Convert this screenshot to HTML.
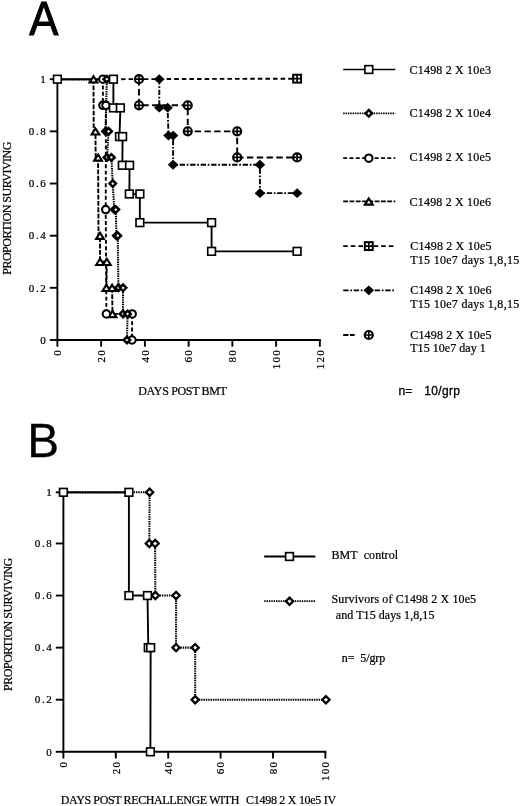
<!DOCTYPE html>
<html lang="en"><head><meta charset="utf-8"><title>Figure</title>
<style>html,body{margin:0;padding:0;background:#fff}svg{display:block;filter:grayscale(1)}text{fill:#000}</style>
</head><body>
<svg width="520" height="806" viewBox="0 0 520 806">
<rect width="520" height="806" fill="#fff"/>
<text transform="translate(29.30 34.50) scale(0.915 1)" font-family='"Liberation Sans", sans-serif' font-size="47.7" text-anchor="start" stroke="#000" stroke-width="1.0" xml:space="preserve">A</text>
<text transform="translate(27.20 457.40) scale(0.975 1)" font-family='"Liberation Sans", sans-serif' font-size="49.0" text-anchor="start" stroke="#000" stroke-width="0.25" xml:space="preserve">B</text>
<path d="M57.4 79.20V340.0H320.79" fill="none" stroke="#000" stroke-width="1.9" stroke-linejoin="miter"/>
<path d="M49.80 340.00H57.4" stroke="#000" stroke-width="1.9"/>
<text x="47.40" y="343.75" font-family='"Liberation Serif", serif' font-size="11" text-anchor="end" stroke="#000" stroke-width="0.22" letter-spacing="1.6" xml:space="preserve">0</text>
<path d="M49.80 287.84H57.4" stroke="#000" stroke-width="1.9"/>
<text x="47.40" y="291.59" font-family='"Liberation Serif", serif' font-size="11" text-anchor="end" stroke="#000" stroke-width="0.22" letter-spacing="1.6" xml:space="preserve">0.2</text>
<path d="M49.80 235.68H57.4" stroke="#000" stroke-width="1.9"/>
<text x="47.40" y="239.43" font-family='"Liberation Serif", serif' font-size="11" text-anchor="end" stroke="#000" stroke-width="0.22" letter-spacing="1.6" xml:space="preserve">0.4</text>
<path d="M49.80 183.52H57.4" stroke="#000" stroke-width="1.9"/>
<text x="47.40" y="187.27" font-family='"Liberation Serif", serif' font-size="11" text-anchor="end" stroke="#000" stroke-width="0.22" letter-spacing="1.6" xml:space="preserve">0.6</text>
<path d="M49.80 131.36H57.4" stroke="#000" stroke-width="1.9"/>
<text x="47.40" y="135.11" font-family='"Liberation Serif", serif' font-size="11" text-anchor="end" stroke="#000" stroke-width="0.22" letter-spacing="1.6" xml:space="preserve">0.8</text>
<path d="M49.80 79.20H57.4" stroke="#000" stroke-width="1.9"/>
<text x="47.40" y="82.95" font-family='"Liberation Serif", serif' font-size="11" text-anchor="end" stroke="#000" stroke-width="0.22" letter-spacing="1.6" xml:space="preserve">1</text>
<path d="M57.40 340.0V346.70" stroke="#000" stroke-width="1.9"/>
<text transform="translate(61.20 349.10) rotate(-90)" font-family='"Liberation Serif", serif' font-size="11" text-anchor="end" stroke="#000" stroke-width="0.22" letter-spacing="1.2" xml:space="preserve">0</text>
<path d="M101.14 340.0V346.70" stroke="#000" stroke-width="1.9"/>
<text transform="translate(104.94 349.10) rotate(-90)" font-family='"Liberation Serif", serif' font-size="11" text-anchor="end" stroke="#000" stroke-width="0.22" letter-spacing="1.2" xml:space="preserve">20</text>
<path d="M144.88 340.0V346.70" stroke="#000" stroke-width="1.9"/>
<text transform="translate(148.68 349.10) rotate(-90)" font-family='"Liberation Serif", serif' font-size="11" text-anchor="end" stroke="#000" stroke-width="0.22" letter-spacing="1.2" xml:space="preserve">40</text>
<path d="M188.62 340.0V346.70" stroke="#000" stroke-width="1.9"/>
<text transform="translate(192.42 349.10) rotate(-90)" font-family='"Liberation Serif", serif' font-size="11" text-anchor="end" stroke="#000" stroke-width="0.22" letter-spacing="1.2" xml:space="preserve">60</text>
<path d="M232.36 340.0V346.70" stroke="#000" stroke-width="1.9"/>
<text transform="translate(236.16 349.10) rotate(-90)" font-family='"Liberation Serif", serif' font-size="11" text-anchor="end" stroke="#000" stroke-width="0.22" letter-spacing="1.2" xml:space="preserve">80</text>
<path d="M276.10 340.0V346.70" stroke="#000" stroke-width="1.9"/>
<text transform="translate(279.90 349.10) rotate(-90)" font-family='"Liberation Serif", serif' font-size="11" text-anchor="end" stroke="#000" stroke-width="0.22" letter-spacing="1.2" xml:space="preserve">100</text>
<path d="M319.84 340.0V346.70" stroke="#000" stroke-width="1.9"/>
<text transform="translate(323.64 349.10) rotate(-90)" font-family='"Liberation Serif", serif' font-size="11" text-anchor="end" stroke="#000" stroke-width="0.22" letter-spacing="1.2" xml:space="preserve">120</text>
<text transform="translate(11.30 208.20) rotate(-90)" font-family='"Liberation Serif", serif' font-size="12" text-anchor="middle" stroke="#000" stroke-width="0.22" textLength="133.2" lengthAdjust="spacing" xml:space="preserve">PROPORTION SURVIVING</text>
<text x="138.30" y="395.00" font-family='"Liberation Serif", serif' font-size="12" text-anchor="start" stroke="#000" stroke-width="0.22" textLength="88.6" lengthAdjust="spacing" xml:space="preserve">DAYS POST BMT</text>
<polyline points="113.39,79.20 297.10,78.68" fill="none" stroke="#000" stroke-width="1.9" stroke-dasharray="4.6 3.0"/>
<polyline points="138.98,79.20 138.98,105.28 187.75,105.28 187.75,131.36 237.17,131.36 237.17,157.44 297.10,157.44" fill="none" stroke="#000" stroke-width="1.9" stroke-dasharray="6.4 3.4"/>
<polyline points="159.31,79.20 159.31,107.63 167.62,107.63 168.50,135.53 173.09,135.53 173.09,164.74 259.92,164.74 259.92,193.17 297.10,193.17" fill="none" stroke="#000" stroke-width="1.9" stroke-dasharray="5.4 1.7 1.7 1.7"/>
<polyline points="93.49,79.20 93.70,131.36 95.45,131.36 95.67,157.44 98.08,157.44 98.52,235.68 100.05,235.68 100.05,261.76 106.83,261.76 106.39,287.84 112.07,287.84 112.51,313.92" fill="none" stroke="#000" stroke-width="1.9" stroke-dasharray="4.8 1.5"/>
<polyline points="102.89,79.20 102.89,105.28 105.95,105.28 105.73,209.60 106.39,313.92 132.20,313.92 131.98,340.00" fill="none" stroke="#000" stroke-width="1.9" stroke-dasharray="3.9 2.4"/>
<polyline points="106.83,79.20 105.51,131.36 108.58,131.36 107.04,157.44 111.42,157.44 112.73,183.52 114.26,209.60 115.79,209.60 116.45,235.68 117.76,235.68 118.42,287.84 123.01,287.84 123.01,313.92 127.60,313.92 126.95,340.00" fill="none" stroke="#000" stroke-width="2.05" stroke-dasharray="1.45 0.9"/>
<polyline points="57.40,79.50 106.83,79.50" fill="none" stroke="#000" stroke-width="1.9" stroke-dasharray="1.45 0.9"/>
<polyline points="57.40,79.20 113.39,79.20 113.39,107.89 120.39,107.89 119.51,136.58 122.57,136.58 122.35,165.26 129.57,165.26 129.35,193.95 139.85,193.95 139.85,222.64 211.58,222.64 211.58,251.33 297.10,251.33" fill="none" stroke="#000" stroke-width="1.9" />
<rect x="293.15" y="74.73" width="7.90" height="7.90" fill="#fff" stroke="#000" stroke-width="2.0"/><path d="M293.15 78.68H301.05M297.1 74.73V82.63" stroke="#000" stroke-width="1.7" fill="none"/>
<circle cx="138.98" cy="79.2" r="4.05" fill="#fff" stroke="#000" stroke-width="2.1"/><path d="M134.93 79.2H143.03M138.98 75.15V83.25" stroke="#000" stroke-width="1.7" fill="none"/>
<circle cx="138.98" cy="105.28" r="4.05" fill="#fff" stroke="#000" stroke-width="2.1"/><path d="M134.93 105.28H143.03M138.98 101.23V109.33" stroke="#000" stroke-width="1.7" fill="none"/>
<circle cx="187.75" cy="105.28" r="4.05" fill="#fff" stroke="#000" stroke-width="2.1"/><path d="M183.70 105.28H191.80M187.75 101.23V109.33" stroke="#000" stroke-width="1.7" fill="none"/>
<circle cx="187.75" cy="131.36" r="4.05" fill="#fff" stroke="#000" stroke-width="2.1"/><path d="M183.70 131.36H191.80M187.75 127.31V135.41" stroke="#000" stroke-width="1.7" fill="none"/>
<circle cx="237.17" cy="131.36" r="4.05" fill="#fff" stroke="#000" stroke-width="2.1"/><path d="M233.12 131.36H241.22M237.17 127.31V135.41" stroke="#000" stroke-width="1.7" fill="none"/>
<circle cx="237.17" cy="157.44" r="4.05" fill="#fff" stroke="#000" stroke-width="2.1"/><path d="M233.12 157.44H241.22M237.17 153.39V161.49" stroke="#000" stroke-width="1.7" fill="none"/>
<circle cx="297.1" cy="157.44" r="4.05" fill="#fff" stroke="#000" stroke-width="2.1"/><path d="M293.05 157.44H301.15M297.1 153.39V161.49" stroke="#000" stroke-width="1.7" fill="none"/>
<path d="M154.01 79.2L159.31 74.30L164.61 79.2L159.31 84.10Z" fill="#000" stroke="none"/>
<path d="M154.01 107.63L159.31 102.73L164.61 107.63L159.31 112.53Z" fill="#000" stroke="none"/>
<path d="M162.32 107.63L167.62 102.73L172.92 107.63L167.62 112.53Z" fill="#000" stroke="none"/>
<path d="M163.20 135.53L168.5 130.63L173.80 135.53L168.5 140.43Z" fill="#000" stroke="none"/>
<path d="M167.79 135.53L173.09 130.63L178.39 135.53L173.09 140.43Z" fill="#000" stroke="none"/>
<path d="M167.79 164.74L173.09 159.84L178.39 164.74L173.09 169.64Z" fill="#000" stroke="none"/>
<path d="M254.62 164.74L259.92 159.84L265.22 164.74L259.92 169.64Z" fill="#000" stroke="none"/>
<path d="M254.62 193.17L259.92 188.27L265.22 193.17L259.92 198.07Z" fill="#000" stroke="none"/>
<path d="M291.80 193.17L297.1 188.27L302.40 193.17L297.1 198.07Z" fill="#000" stroke="none"/>
<path d="M89.59 82.40L93.49 76.20L97.39 82.40Z" fill="#fff" stroke="#000" stroke-width="2.1" stroke-linejoin="miter"/>
<path d="M91.55 134.56L95.45 128.36L99.35 134.56Z" fill="#fff" stroke="#000" stroke-width="2.1" stroke-linejoin="miter"/>
<path d="M94.18 160.64L98.08 154.44L101.98 160.64Z" fill="#fff" stroke="#000" stroke-width="2.1" stroke-linejoin="miter"/>
<path d="M96.15 238.88L100.05 232.68L103.95 238.88Z" fill="#fff" stroke="#000" stroke-width="2.1" stroke-linejoin="miter"/>
<path d="M96.15 264.96L100.05 258.76L103.95 264.96Z" fill="#fff" stroke="#000" stroke-width="2.1" stroke-linejoin="miter"/>
<path d="M102.93 264.96L106.83 258.76L110.73 264.96Z" fill="#fff" stroke="#000" stroke-width="2.1" stroke-linejoin="miter"/>
<path d="M102.49 291.04L106.39 284.84L110.29 291.04Z" fill="#fff" stroke="#000" stroke-width="2.1" stroke-linejoin="miter"/>
<path d="M108.17 291.04L112.07 284.84L115.97 291.04Z" fill="#fff" stroke="#000" stroke-width="2.1" stroke-linejoin="miter"/>
<path d="M108.61 317.12L112.51 310.92L116.41 317.12Z" fill="#fff" stroke="#000" stroke-width="2.1" stroke-linejoin="miter"/>
<circle cx="102.89" cy="79.2" r="3.70" fill="#fff" stroke="#000" stroke-width="2.1"/>
<circle cx="102.89" cy="105.28" r="3.70" fill="#fff" stroke="#000" stroke-width="2.1"/>
<circle cx="105.95" cy="105.28" r="3.70" fill="#fff" stroke="#000" stroke-width="2.1"/>
<circle cx="105.73" cy="209.6" r="3.70" fill="#fff" stroke="#000" stroke-width="2.1"/>
<circle cx="106.39" cy="313.92" r="3.70" fill="#fff" stroke="#000" stroke-width="2.1"/>
<circle cx="132.2" cy="313.92" r="3.70" fill="#fff" stroke="#000" stroke-width="2.1"/>
<circle cx="131.98" cy="340.0" r="3.70" fill="#fff" stroke="#000" stroke-width="2.1"/>
<path d="M103.58 79.2L106.83 75.95L110.08 79.2L106.83 82.45Z" fill="#fff" stroke="#000" stroke-width="2.5"/>
<path d="M102.26 131.36L105.51 128.11L108.76 131.36L105.51 134.61Z" fill="#fff" stroke="#000" stroke-width="2.5"/>
<path d="M105.33 131.36L108.58 128.11L111.83 131.36L108.58 134.61Z" fill="#fff" stroke="#000" stroke-width="2.5"/>
<path d="M103.79 157.44L107.04 154.19L110.29 157.44L107.04 160.69Z" fill="#fff" stroke="#000" stroke-width="2.5"/>
<path d="M108.17 157.44L111.42 154.19L114.67 157.44L111.42 160.69Z" fill="#fff" stroke="#000" stroke-width="2.5"/>
<path d="M109.48 183.52L112.73 180.27L115.98 183.52L112.73 186.77Z" fill="#fff" stroke="#000" stroke-width="2.5"/>
<path d="M111.01 209.6L114.26 206.35L117.51 209.6L114.26 212.85Z" fill="#fff" stroke="#000" stroke-width="2.5"/>
<path d="M112.54 209.6L115.79 206.35L119.04 209.6L115.79 212.85Z" fill="#fff" stroke="#000" stroke-width="2.5"/>
<path d="M113.20 235.68L116.45 232.43L119.70 235.68L116.45 238.93Z" fill="#fff" stroke="#000" stroke-width="2.5"/>
<path d="M114.51 235.68L117.76 232.43L121.01 235.68L117.76 238.93Z" fill="#fff" stroke="#000" stroke-width="2.5"/>
<path d="M115.17 287.84L118.42 284.59L121.67 287.84L118.42 291.09Z" fill="#fff" stroke="#000" stroke-width="2.5"/>
<path d="M119.76 287.84L123.01 284.59L126.26 287.84L123.01 291.09Z" fill="#fff" stroke="#000" stroke-width="2.5"/>
<path d="M119.76 313.92L123.01 310.67L126.26 313.92L123.01 317.17Z" fill="#fff" stroke="#000" stroke-width="2.5"/>
<path d="M124.35 313.92L127.6 310.67L130.85 313.92L127.6 317.17Z" fill="#fff" stroke="#000" stroke-width="2.5"/>
<path d="M123.70 340.0L126.95 336.75L130.20 340.0L126.95 343.25Z" fill="#fff" stroke="#000" stroke-width="2.5"/>
<rect x="53.55" y="75.35" width="7.70" height="7.70" fill="#fff" stroke="#000" stroke-width="1.65"/>
<rect x="109.54" y="75.35" width="7.70" height="7.70" fill="#fff" stroke="#000" stroke-width="1.65"/>
<rect x="109.54" y="104.04" width="7.70" height="7.70" fill="#fff" stroke="#000" stroke-width="1.65"/>
<rect x="116.54" y="104.04" width="7.70" height="7.70" fill="#fff" stroke="#000" stroke-width="1.65"/>
<rect x="115.66" y="132.73" width="7.70" height="7.70" fill="#fff" stroke="#000" stroke-width="1.65"/>
<rect x="118.72" y="132.73" width="7.70" height="7.70" fill="#fff" stroke="#000" stroke-width="1.65"/>
<rect x="118.50" y="161.41" width="7.70" height="7.70" fill="#fff" stroke="#000" stroke-width="1.65"/>
<rect x="125.72" y="161.41" width="7.70" height="7.70" fill="#fff" stroke="#000" stroke-width="1.65"/>
<rect x="125.50" y="190.10" width="7.70" height="7.70" fill="#fff" stroke="#000" stroke-width="1.65"/>
<rect x="136.00" y="190.10" width="7.70" height="7.70" fill="#fff" stroke="#000" stroke-width="1.65"/>
<rect x="136.00" y="218.79" width="7.70" height="7.70" fill="#fff" stroke="#000" stroke-width="1.65"/>
<rect x="207.73" y="218.79" width="7.70" height="7.70" fill="#fff" stroke="#000" stroke-width="1.65"/>
<rect x="207.73" y="247.48" width="7.70" height="7.70" fill="#fff" stroke="#000" stroke-width="1.65"/>
<rect x="293.25" y="247.48" width="7.70" height="7.70" fill="#fff" stroke="#000" stroke-width="1.65"/>
<polyline points="343.20,69.50 395.30,69.50" fill="none" stroke="#000" stroke-width="1.6" />
<rect x="364.95" y="65.65" width="7.70" height="7.70" fill="#fff" stroke="#000" stroke-width="1.65"/>
<text x="409.60" y="73.50" font-family='"Liberation Serif", serif' font-size="12" text-anchor="start" stroke="#000" stroke-width="0.22" textLength="81.3" lengthAdjust="spacing" xml:space="preserve">C1498 2 X 10e3</text>
<polyline points="343.20,113.30 395.30,113.30" fill="none" stroke="#000" stroke-width="1.8" stroke-dasharray="1.45 0.9"/>
<path d="M365.55 113.3L368.8 110.05L372.05 113.3L368.8 116.55Z" fill="#fff" stroke="#000" stroke-width="2.5"/>
<text x="409.60" y="117.40" font-family='"Liberation Serif", serif' font-size="12" text-anchor="start" stroke="#000" stroke-width="0.22" textLength="81.3" lengthAdjust="spacing" xml:space="preserve">C1498 2 X 10e4</text>
<polyline points="343.20,158.20 395.30,158.20" fill="none" stroke="#000" stroke-width="1.8" stroke-dasharray="3.9 2.4"/>
<circle cx="368.8" cy="158.2" r="3.70" fill="#fff" stroke="#000" stroke-width="2.1"/>
<text x="409.60" y="161.30" font-family='"Liberation Serif", serif' font-size="12" text-anchor="start" stroke="#000" stroke-width="0.22" textLength="81.3" lengthAdjust="spacing" xml:space="preserve">C1498 2 X 10e5</text>
<polyline points="343.20,201.40 395.30,201.40" fill="none" stroke="#000" stroke-width="1.8" stroke-dasharray="4.8 1.5"/>
<path d="M364.90 204.60L368.8 198.40L372.70 204.60Z" fill="#fff" stroke="#000" stroke-width="2.1" stroke-linejoin="miter"/>
<text x="409.60" y="205.50" font-family='"Liberation Serif", serif' font-size="12" text-anchor="start" stroke="#000" stroke-width="0.22" textLength="81.3" lengthAdjust="spacing" xml:space="preserve">C1498 2 X 10e6</text>
<polyline points="343.20,246.10 395.30,246.10" fill="none" stroke="#000" stroke-width="1.8" stroke-dasharray="4.6 3.0"/>
<rect x="364.85" y="242.15" width="7.90" height="7.90" fill="#fff" stroke="#000" stroke-width="2.0"/><path d="M364.85 246.1H372.75M368.8 242.15V250.05" stroke="#000" stroke-width="1.7" fill="none"/>
<text x="410.20" y="250.20" font-family='"Liberation Serif", serif' font-size="12" text-anchor="start" stroke="#000" stroke-width="0.22" textLength="81.3" lengthAdjust="spacing" xml:space="preserve">C1498 2 X 10e5</text>
<text x="410.20" y="264.40" font-family='"Liberation Serif", serif' font-size="12" text-anchor="start" stroke="#000" stroke-width="0.22" textLength="109.0" lengthAdjust="spacing" xml:space="preserve">T15 10e7 days 1,8,15</text>
<polyline points="343.20,290.30 395.30,290.30" fill="none" stroke="#000" stroke-width="1.8" stroke-dasharray="5.4 1.7 1.7 1.7"/>
<path d="M363.50 290.3L368.8 285.40L374.10 290.3L368.8 295.20Z" fill="#000" stroke="none"/>
<text x="410.20" y="293.60" font-family='"Liberation Serif", serif' font-size="12" text-anchor="start" stroke="#000" stroke-width="0.22" textLength="81.3" lengthAdjust="spacing" xml:space="preserve">C1498 2 X 10e6</text>
<text x="410.20" y="307.80" font-family='"Liberation Serif", serif' font-size="12" text-anchor="start" stroke="#000" stroke-width="0.22" textLength="109.0" lengthAdjust="spacing" xml:space="preserve">T15 10e7 days 1,8,15</text>
<path d="M343.2 335.0h5.3m1.5 0h4.6" fill="none" stroke="#000" stroke-width="1.8"/>
<circle cx="368.8" cy="335.0" r="4.05" fill="#fff" stroke="#000" stroke-width="2.1"/><path d="M364.75 335.0H372.85M368.8 330.95V339.05" stroke="#000" stroke-width="1.7" fill="none"/>
<text x="410.20" y="338.50" font-family='"Liberation Serif", serif' font-size="12" text-anchor="start" stroke="#000" stroke-width="0.22" textLength="81.3" lengthAdjust="spacing" xml:space="preserve">C1498 2 X 10e5</text>
<text x="410.20" y="352.40" font-family='"Liberation Serif", serif' font-size="12" text-anchor="start" stroke="#000" stroke-width="0.22" textLength="75.6" lengthAdjust="spacing" xml:space="preserve">T15 10e7 day 1</text>
<text x="398.60" y="394.70" font-family='"Liberation Sans", sans-serif' font-size="12" text-anchor="start" stroke="#000" stroke-width="0.3" xml:space="preserve">n=</text>
<text x="424.30" y="394.70" font-family='"Liberation Sans", sans-serif' font-size="12" text-anchor="start" stroke="#000" stroke-width="0.3" textLength="35.6" lengthAdjust="spacing" xml:space="preserve">10/grp</text>
<path d="M63.4 492.31V751.8H326.35" fill="none" stroke="#000" stroke-width="1.9" stroke-linejoin="miter"/>
<path d="M55.80 751.80H63.4" stroke="#000" stroke-width="1.9"/>
<text x="53.40" y="755.55" font-family='"Liberation Serif", serif' font-size="11" text-anchor="end" stroke="#000" stroke-width="0.22" letter-spacing="1.6" xml:space="preserve">0</text>
<path d="M55.80 699.72H63.4" stroke="#000" stroke-width="1.9"/>
<text x="53.40" y="703.47" font-family='"Liberation Serif", serif' font-size="11" text-anchor="end" stroke="#000" stroke-width="0.22" letter-spacing="1.6" xml:space="preserve">0.2</text>
<path d="M55.80 647.64H63.4" stroke="#000" stroke-width="1.9"/>
<text x="53.40" y="651.39" font-family='"Liberation Serif", serif' font-size="11" text-anchor="end" stroke="#000" stroke-width="0.22" letter-spacing="1.6" xml:space="preserve">0.4</text>
<path d="M55.80 595.56H63.4" stroke="#000" stroke-width="1.9"/>
<text x="53.40" y="599.31" font-family='"Liberation Serif", serif' font-size="11" text-anchor="end" stroke="#000" stroke-width="0.22" letter-spacing="1.6" xml:space="preserve">0.6</text>
<path d="M55.80 543.48H63.4" stroke="#000" stroke-width="1.9"/>
<text x="53.40" y="547.23" font-family='"Liberation Serif", serif' font-size="11" text-anchor="end" stroke="#000" stroke-width="0.22" letter-spacing="1.6" xml:space="preserve">0.8</text>
<path d="M55.80 492.31H63.4" stroke="#000" stroke-width="1.9"/>
<text x="53.40" y="496.06" font-family='"Liberation Serif", serif' font-size="11" text-anchor="end" stroke="#000" stroke-width="0.22" letter-spacing="1.6" xml:space="preserve">1</text>
<path d="M63.40 751.8V758.50" stroke="#000" stroke-width="1.9"/>
<text transform="translate(67.20 760.90) rotate(-90)" font-family='"Liberation Serif", serif' font-size="11" text-anchor="end" stroke="#000" stroke-width="0.22" letter-spacing="1.2" xml:space="preserve">0</text>
<path d="M115.80 751.8V758.50" stroke="#000" stroke-width="1.9"/>
<text transform="translate(119.60 760.90) rotate(-90)" font-family='"Liberation Serif", serif' font-size="11" text-anchor="end" stroke="#000" stroke-width="0.22" letter-spacing="1.2" xml:space="preserve">20</text>
<path d="M168.20 751.8V758.50" stroke="#000" stroke-width="1.9"/>
<text transform="translate(172.00 760.90) rotate(-90)" font-family='"Liberation Serif", serif' font-size="11" text-anchor="end" stroke="#000" stroke-width="0.22" letter-spacing="1.2" xml:space="preserve">40</text>
<path d="M220.60 751.8V758.50" stroke="#000" stroke-width="1.9"/>
<text transform="translate(224.40 760.90) rotate(-90)" font-family='"Liberation Serif", serif' font-size="11" text-anchor="end" stroke="#000" stroke-width="0.22" letter-spacing="1.2" xml:space="preserve">60</text>
<path d="M273.00 751.8V758.50" stroke="#000" stroke-width="1.9"/>
<text transform="translate(276.80 760.90) rotate(-90)" font-family='"Liberation Serif", serif' font-size="11" text-anchor="end" stroke="#000" stroke-width="0.22" letter-spacing="1.2" xml:space="preserve">80</text>
<path d="M325.40 751.8V758.50" stroke="#000" stroke-width="1.9"/>
<text transform="translate(329.20 760.90) rotate(-90)" font-family='"Liberation Serif", serif' font-size="11" text-anchor="end" stroke="#000" stroke-width="0.22" letter-spacing="1.2" xml:space="preserve">100</text>
<text transform="translate(12.30 624.30) rotate(-90)" font-family='"Liberation Serif", serif' font-size="12" text-anchor="middle" stroke="#000" stroke-width="0.22" textLength="133.2" lengthAdjust="spacing" xml:space="preserve">PROPORTION SURVIVING</text>
<text x="60.70" y="803.80" font-family='"Liberation Serif", serif' font-size="12" text-anchor="start" stroke="#000" stroke-width="0.22" textLength="178.6" lengthAdjust="spacing" xml:space="preserve">DAYS POST RECHALLENGE WITH</text>
<text x="246.00" y="803.80" font-family='"Liberation Serif", serif' font-size="12" text-anchor="start" stroke="#000" stroke-width="0.22" textLength="90.2" lengthAdjust="spacing" xml:space="preserve">C1498 2 X 10e5 IV</text>
<polyline points="63.40,492.61 128.90,492.61" fill="none" stroke="#000" stroke-width="1.9" stroke-dasharray="1.45 0.9"/>
<polyline points="128.90,492.31 149.60,492.31 149.34,543.48 155.10,543.48 155.36,595.56 176.06,595.56 176.06,647.64 195.19,647.64 195.19,699.72 325.92,699.72" fill="none" stroke="#000" stroke-width="2.05" stroke-dasharray="1.45 0.9"/>
<polyline points="63.40,492.31 128.90,492.31 128.90,595.56 147.50,595.56 148.29,647.64 150.65,647.64 150.38,751.80" fill="none" stroke="#000" stroke-width="1.9" />
<path d="M146.00 492.31L149.6 488.71L153.20 492.31L149.6 495.91Z" fill="#fff" stroke="#000" stroke-width="2.3"/>
<path d="M145.74 543.48L149.34 539.88L152.94 543.48L149.34 547.08Z" fill="#fff" stroke="#000" stroke-width="2.3"/>
<path d="M151.50 543.48L155.1 539.88L158.70 543.48L155.1 547.08Z" fill="#fff" stroke="#000" stroke-width="2.3"/>
<path d="M151.76 595.56L155.36 591.96L158.96 595.56L155.36 599.16Z" fill="#fff" stroke="#000" stroke-width="2.3"/>
<path d="M172.46 595.56L176.06 591.96L179.66 595.56L176.06 599.16Z" fill="#fff" stroke="#000" stroke-width="2.3"/>
<path d="M172.46 647.64L176.06 644.04L179.66 647.64L176.06 651.24Z" fill="#fff" stroke="#000" stroke-width="2.3"/>
<path d="M191.59 647.64L195.19 644.04L198.79 647.64L195.19 651.24Z" fill="#fff" stroke="#000" stroke-width="2.3"/>
<path d="M191.59 699.72L195.19 696.12L198.79 699.72L195.19 703.32Z" fill="#fff" stroke="#000" stroke-width="2.3"/>
<path d="M322.32 699.72L325.92 696.12L329.52 699.72L325.92 703.32Z" fill="#fff" stroke="#000" stroke-width="2.3"/>
<rect x="59.55" y="488.46" width="7.70" height="7.70" fill="#fff" stroke="#000" stroke-width="1.65"/>
<rect x="125.05" y="488.46" width="7.70" height="7.70" fill="#fff" stroke="#000" stroke-width="1.65"/>
<rect x="125.05" y="591.71" width="7.70" height="7.70" fill="#fff" stroke="#000" stroke-width="1.65"/>
<rect x="143.65" y="591.71" width="7.70" height="7.70" fill="#fff" stroke="#000" stroke-width="1.65"/>
<rect x="144.44" y="643.79" width="7.70" height="7.70" fill="#fff" stroke="#000" stroke-width="1.65"/>
<rect x="146.80" y="643.79" width="7.70" height="7.70" fill="#fff" stroke="#000" stroke-width="1.65"/>
<rect x="146.53" y="747.95" width="7.70" height="7.70" fill="#fff" stroke="#000" stroke-width="1.65"/>
<polyline points="264.20,556.50 315.40,556.50" fill="none" stroke="#000" stroke-width="2.0" />
<rect x="285.65" y="552.65" width="7.70" height="7.70" fill="#fff" stroke="#000" stroke-width="1.65"/>
<text x="331.50" y="559.10" font-family='"Liberation Serif", serif' font-size="12" text-anchor="start" stroke="#000" stroke-width="0.22" textLength="66.6" lengthAdjust="spacing" xml:space="preserve">BMT  control</text>
<polyline points="264.20,601.20 315.40,601.20" fill="none" stroke="#000" stroke-width="1.8" stroke-dasharray="1.45 0.9"/>
<path d="M285.90 601.2L289.5 597.60L293.10 601.2L289.5 604.80Z" fill="#fff" stroke="#000" stroke-width="2.3"/>
<text x="331.50" y="603.10" font-family='"Liberation Serif", serif' font-size="12" text-anchor="start" stroke="#000" stroke-width="0.22" textLength="144.6" lengthAdjust="spacing" xml:space="preserve">Survivors of C1498 2 X 10e5</text>
<text x="335.80" y="618.50" font-family='"Liberation Serif", serif' font-size="12" text-anchor="start" stroke="#000" stroke-width="0.22" textLength="98.6" lengthAdjust="spacing" xml:space="preserve">and T15 days 1,8,15</text>
<text x="341.70" y="661.50" font-family='"Liberation Serif", serif' font-size="12" text-anchor="start" stroke="#000" stroke-width="0.22" textLength="43.6" lengthAdjust="spacing" xml:space="preserve">n=  5/grp</text>
</svg></body></html>
